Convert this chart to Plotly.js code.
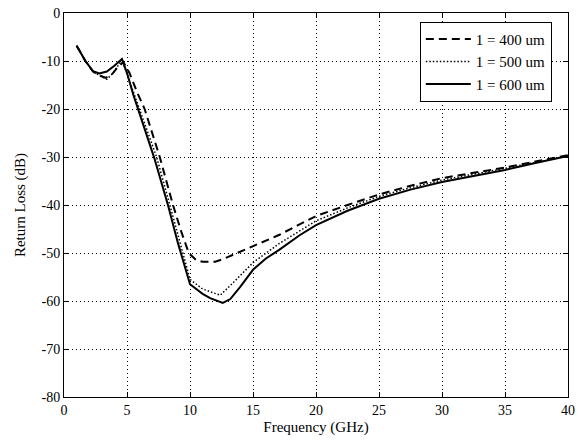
<!DOCTYPE html>
<html>
<head>
<meta charset="utf-8">
<script src="https://cdn.plot.ly/plotly-3.0.1.min.js"></script>
<style>html,body{margin:0;padding:0;background:#fff}#chart{width:580px;height:441px}</style>
</head>
<body>
<div id="chart"></div>
<script>
// Series 1: l = 400 um (dashed)
const freq400 = [1, 1.7, 2.3, 2.8, 3.3, 3.8, 4.2, 4.7, 5.2, 5.8, 6.4, 7.6, 8.65, 9.3, 9.9, 10.5, 11.0, 12.0, 12.6, 13.5, 15, 17.1, 18.5, 20, 22.5, 25, 27.5, 30, 32.5, 35, 37.5, 40];
const rl400 = [-6.8, -10, -12.2, -13.0, -13.5, -12.8, -11.5, -10.2, -12.5, -16.5, -20, -30, -40, -45.5, -50, -51.5, -51.8, -51.8, -51.3, -50.3, -48.7, -46.2, -44.3, -42.3, -40, -37.8, -36, -34.4, -33.3, -32.2, -30.9, -29.6];
// Series 2: l = 500 um (dotted)
const freq500 = [1, 1.7, 2.3, 2.8, 3.4, 3.9, 4.6, 5.1, 5.5, 6.1, 7.35, 8.4, 9.2, 10, 11, 11.6, 12.4, 13.5, 15, 17.1, 18.5, 20, 22.5, 25, 27.5, 30, 32.5, 35, 37.5, 40];
const rl500 = [-6.8, -10, -12.1, -13, -13.8, -12.5, -9.8, -13.5, -16.5, -20.5, -30, -40, -47.5, -55.5, -57.5, -58.1, -58.8, -56, -52, -48, -45.8, -43.3, -40.6, -38.2, -36.4, -34.8, -33.6, -32.4, -31.1, -29.8];
// Series 3: l = 600 um (solid)
const freq600 = [1, 1.7, 2.3, 2.8, 3.4, 4.0, 4.6, 5.0, 5.5, 6.0, 7.2, 8.25, 9.05, 10, 11, 11.6, 12.6, 13.2, 14, 15, 16, 17.1, 18.7, 20, 22.5, 25, 27.5, 30, 32.5, 35, 37.5, 40];
const rl600 = [-6.8, -10, -12.1, -12.6, -12.2, -11, -9.6, -12.5, -17, -21, -30.5, -40, -48, -56.5, -58.5, -59.4, -60.4, -59.6, -57, -53.5, -51.2, -49.3, -46.3, -44.2, -41.2, -38.7, -36.8, -35.2, -34, -32.7, -31.2, -29.8];

const names = ['1 = 400 um', '1 = 500 um', '1 = 600 um'];
const xTicks = [0, 5, 10, 15, 20, 25, 30, 35, 40];
const yTicks = [0, -10, -20, -30, -40, -50, -60, -70, -80];

const font = {family: 'Liberation Serif, Times New Roman, serif', color: '#000'};

const traces = [
  {x: freq400, y: rl400, name: names[0], mode: 'lines', line: {color: '#000', width: 2, dash: '8px,5px'}},
  {x: freq500, y: rl500, name: names[1], mode: 'lines', line: {color: '#000', width: 1.5, dash: '1.5px,2px'}},
  {x: freq600, y: rl600, name: names[2], mode: 'lines', line: {color: '#000', width: 2}}
];

const axisCommon = {
  showline: true, linecolor: '#000', linewidth: 1, mirror: 'ticks',
  ticks: 'inside', ticklen: 5, tickcolor: '#000',
  showgrid: true, gridcolor: '#000', gridwidth: 1, griddash: '1px,3px',
  zeroline: false, tickfont: Object.assign({size: 14}, font)
};

const layout = {
  width: 580, height: 441,
  margin: {l: 64, r: 12, t: 13, b: 44},
  paper_bgcolor: '#fff', plot_bgcolor: '#fff',
  font: font,
  showlegend: true,
  legend: {
    x: 0.706, y: 0.977, xanchor: 'left', yanchor: 'top',
    bordercolor: '#000', borderwidth: 1, bgcolor: '#fff',
    itemwidth: 45, tracegroupgap: 0,
    font: Object.assign({size: 15}, font)
  },
  xaxis: Object.assign({}, axisCommon, {
    range: [0, 40], tickvals: xTicks, ticktext: xTicks.map(String),
    title: {text: 'Frequency (GHz)', font: Object.assign({size: 15}, font), standoff: 4}
  }),
  yaxis: Object.assign({}, axisCommon, {
    range: [-80, 0], tickvals: yTicks, ticktext: yTicks.map(String),
    title: {text: 'Return Loss (dB)', font: Object.assign({size: 15}, font), standoff: 12}
  })
};

Plotly.newPlot('chart', traces, layout, {displayModeBar: false, staticPlot: true});
</script>
</body>
</html>
